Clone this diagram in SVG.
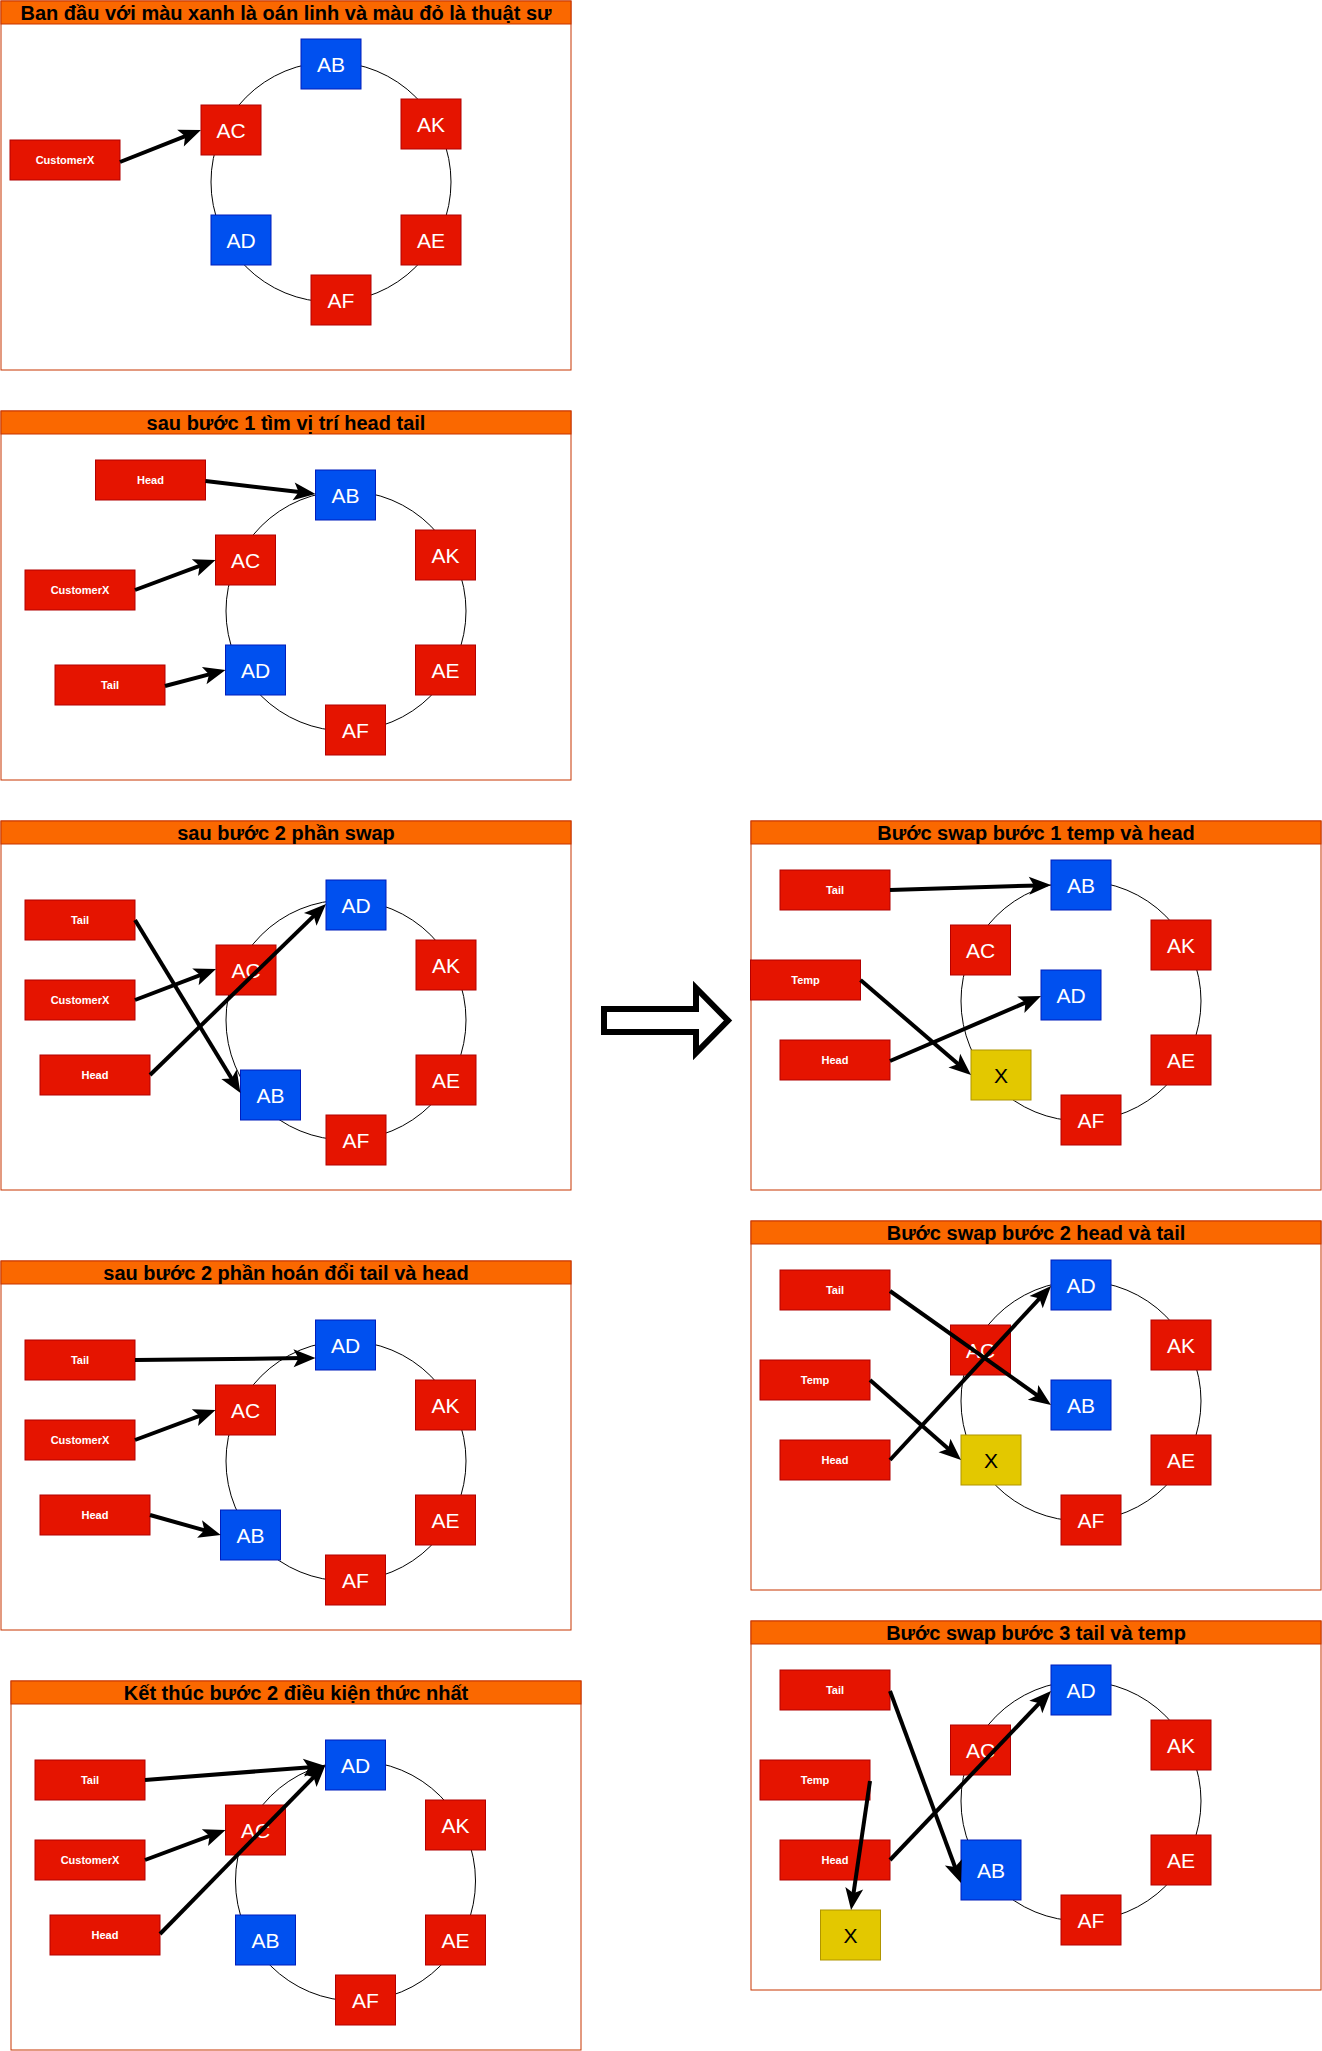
<svg xmlns="http://www.w3.org/2000/svg" width="1322" height="2051" viewBox="0 0 1322 2051">
<style>
.frame{fill:#ffffff;stroke:#C73500;stroke-width:1}
.hdr{fill:#fa6800;stroke:#C73500;stroke-width:1}
.title{font-family:"Liberation Sans",Arial,sans-serif;font-weight:bold;font-size:20px;fill:#000;text-anchor:middle}
.red{fill:#e51400;stroke:#B20000;stroke-width:1}
.blue{fill:#0050ef;stroke:#001DBC;stroke-width:1}
.yel{fill:#e3c800;stroke:#B09500;stroke-width:1}
.lbl{font-family:"Liberation Sans",Arial,sans-serif;font-size:21px;fill:#fff;text-anchor:middle}
.lblk{font-family:"Liberation Sans",Arial,sans-serif;font-size:21px;fill:#000;text-anchor:middle}
.sm{font-family:"Liberation Sans",Arial,sans-serif;font-size:11px;font-weight:bold;fill:#fff;text-anchor:middle}
.ring{fill:none;stroke:#000;stroke-width:1}
.conn line{stroke:#000;stroke-width:4;marker-end:url(#ah)}
</style>
<defs>
<marker id="ah" markerUnits="userSpaceOnUse" markerWidth="24" markerHeight="20" refX="10" refY="9" orient="auto" overflow="visible">
<path d="M0,0 L22,9 L0,18 L5,9 Z" fill="#000"/>
</marker>
</defs>

<!-- Panel 1 -->
<g id="panel1">
<rect class="frame" x="1" y="1" width="570" height="369"/>
<rect class="hdr" x="1" y="1" width="570" height="23"/>
<text class="title" x="286" y="19.5">Ban đầu với màu xanh là oán linh và màu đỏ là thuật sư</text>
<circle class="ring" cx="331" cy="182" r="120"/>
</g>
<g id="p1-ab"><rect class="blue" x="301" y="39" width="60" height="50"/><text class="lbl" x="331" y="71.5">AB</text></g>
<g id="p1-ak"><rect class="red" x="401" y="99" width="60" height="50"/><text class="lbl" x="431" y="131.5">AK</text></g>
<g id="p1-ac"><rect class="red" x="201" y="105" width="60" height="50"/><text class="lbl" x="231" y="137.5">AC</text></g>
<g id="p1-ad"><rect class="blue" x="211" y="215" width="60" height="50"/><text class="lbl" x="241" y="247.5">AD</text></g>
<g id="p1-ae"><rect class="red" x="401" y="215" width="60" height="50"/><text class="lbl" x="431" y="247.5">AE</text></g>
<g id="p1-af"><rect class="red" x="311" y="275" width="60" height="50"/><text class="lbl" x="341" y="307.5">AF</text></g>
<g id="p1-cx"><rect class="red" x="10" y="140" width="110" height="40"/><text class="sm" x="65" y="164">CustomerX</text></g>

<!-- Panel 2 -->
<g id="panel2">
<rect class="frame" x="1" y="411" width="570" height="369"/>
<rect class="hdr" x="1" y="411" width="570" height="23"/>
<text class="title" x="286" y="429.5">sau bước 1 tìm vị trí head tail</text>
<circle class="ring" cx="346" cy="611" r="120"/>
</g>
<g id="p2-head"><rect class="red" x="95.5" y="460" width="110" height="40"/><text class="sm" x="150.5" y="484">Head</text></g>
<g id="p2-ab"><rect class="blue" x="315.5" y="470" width="60" height="50"/><text class="lbl" x="345.5" y="502.5">AB</text></g>
<g id="p2-ak"><rect class="red" x="415.5" y="530" width="60" height="50"/><text class="lbl" x="445.5" y="562.5">AK</text></g>
<g id="p2-ac"><rect class="red" x="215.5" y="535" width="60" height="50"/><text class="lbl" x="245.5" y="567.5">AC</text></g>
<g id="p2-cx"><rect class="red" x="25" y="570" width="110" height="40"/><text class="sm" x="80" y="594">CustomerX</text></g>
<g id="p2-ad"><rect class="blue" x="225.5" y="645" width="60" height="50"/><text class="lbl" x="255.5" y="677.5">AD</text></g>
<g id="p2-ae"><rect class="red" x="415.5" y="645" width="60" height="50"/><text class="lbl" x="445.5" y="677.5">AE</text></g>
<g id="p2-tail"><rect class="red" x="55" y="665" width="110" height="40"/><text class="sm" x="110" y="689">Tail</text></g>
<g id="p2-af"><rect class="red" x="325.5" y="705" width="60" height="50"/><text class="lbl" x="355.5" y="737.5">AF</text></g>

<!-- Panel 3 -->
<g id="panel3">
<rect class="frame" x="1" y="821" width="570" height="369"/>
<rect class="hdr" x="1" y="821" width="570" height="23"/>
<text class="title" x="286" y="839.5">sau bước 2 phần swap</text>
<circle class="ring" cx="346" cy="1020" r="120"/>
</g>
<g id="p3-tail"><rect class="red" x="25" y="900" width="110" height="40"/><text class="sm" x="80" y="924">Tail</text></g>
<g id="p3-ad"><rect class="blue" x="326" y="880" width="60" height="50"/><text class="lbl" x="356" y="912.5">AD</text></g>
<g id="p3-ak"><rect class="red" x="416" y="940" width="60" height="50"/><text class="lbl" x="446" y="972.5">AK</text></g>
<g id="p3-ac"><rect class="red" x="216" y="945" width="60" height="50"/><text class="lbl" x="246" y="977.5">AC</text></g>
<g id="p3-cx"><rect class="red" x="25" y="980" width="110" height="40"/><text class="sm" x="80" y="1004">CustomerX</text></g>
<g id="p3-head"><rect class="red" x="40" y="1055" width="110" height="40"/><text class="sm" x="95" y="1079">Head</text></g>
<g id="p3-ae"><rect class="red" x="416" y="1055" width="60" height="50"/><text class="lbl" x="446" y="1087.5">AE</text></g>
<g id="p3-ab"><rect class="blue" x="240.5" y="1070" width="60" height="50"/><text class="lbl" x="270.5" y="1102.5">AB</text></g>
<g id="p3-af"><rect class="red" x="326" y="1115" width="60" height="50"/><text class="lbl" x="356" y="1147.5">AF</text></g>

<!-- Big hollow arrow -->
<g id="big-arrow">
<polygon points="604,1009 696,1009 696,988 728,1020.5 696,1053 696,1032 604,1032" fill="#fff" stroke="#000" stroke-width="6" stroke-linejoin="miter"/>
</g>

<!-- Panel 4 -->
<g id="panel4">
<rect class="frame" x="751" y="821" width="570" height="369"/>
<rect class="hdr" x="751" y="821" width="570" height="23"/>
<text class="title" x="1036" y="839.5">Bước swap bước 1 temp và head</text>
<circle class="ring" cx="1081" cy="1001" r="120"/>
</g>
<g id="p4-tail"><rect class="red" x="780" y="870" width="110" height="40"/><text class="sm" x="835" y="894">Tail</text></g>
<g id="p4-ab"><rect class="blue" x="1051" y="860" width="60" height="50"/><text class="lbl" x="1081" y="892.5">AB</text></g>
<g id="p4-ac"><rect class="red" x="950.5" y="925" width="60" height="50"/><text class="lbl" x="980.5" y="957.5">AC</text></g>
<g id="p4-ak"><rect class="red" x="1151" y="920" width="60" height="50"/><text class="lbl" x="1181" y="952.5">AK</text></g>
<g id="p4-temp"><rect class="red" x="750.5" y="960" width="110" height="40"/><text class="sm" x="805.5" y="984">Temp</text></g>
<g id="p4-ad"><rect class="blue" x="1041" y="970" width="60" height="50"/><text class="lbl" x="1071" y="1002.5">AD</text></g>
<g id="p4-head"><rect class="red" x="780" y="1040" width="110" height="40"/><text class="sm" x="835" y="1064">Head</text></g>
<g id="p4-x"><rect class="yel" x="971" y="1050" width="60" height="50"/><text class="lblk" x="1001" y="1082.5">X</text></g>
<g id="p4-ae"><rect class="red" x="1151" y="1035" width="60" height="50"/><text class="lbl" x="1181" y="1067.5">AE</text></g>
<g id="p4-af"><rect class="red" x="1061" y="1095" width="60" height="50"/><text class="lbl" x="1091" y="1127.5">AF</text></g>

<!-- Panel 5 -->
<g id="panel5">
<rect class="frame" x="751" y="1221" width="570" height="369"/>
<rect class="hdr" x="751" y="1221" width="570" height="23"/>
<text class="title" x="1036" y="1239.5">Bước swap bước 2 head và tail</text>
<circle class="ring" cx="1081" cy="1401" r="120"/>
</g>
<g id="p5-tail"><rect class="red" x="780" y="1270" width="110" height="40"/><text class="sm" x="835" y="1294">Tail</text></g>
<g id="p5-ad"><rect class="blue" x="1051" y="1260" width="60" height="50"/><text class="lbl" x="1081" y="1292.5">AD</text></g>
<g id="p5-ac"><rect class="red" x="950.5" y="1325" width="60" height="50"/><text class="lbl" x="980.5" y="1357.5">AC</text></g>
<g id="p5-ak"><rect class="red" x="1151" y="1320" width="60" height="50"/><text class="lbl" x="1181" y="1352.5">AK</text></g>
<g id="p5-temp"><rect class="red" x="760" y="1360" width="110" height="40"/><text class="sm" x="815" y="1384">Temp</text></g>
<g id="p5-ab"><rect class="blue" x="1051" y="1380" width="60" height="50"/><text class="lbl" x="1081" y="1412.5">AB</text></g>
<g id="p5-head"><rect class="red" x="780" y="1440" width="110" height="40"/><text class="sm" x="835" y="1464">Head</text></g>
<g id="p5-x"><rect class="yel" x="961" y="1435" width="60" height="50"/><text class="lblk" x="991" y="1467.5">X</text></g>
<g id="p5-ae"><rect class="red" x="1151" y="1435" width="60" height="50"/><text class="lbl" x="1181" y="1467.5">AE</text></g>
<g id="p5-af"><rect class="red" x="1061" y="1495" width="60" height="50"/><text class="lbl" x="1091" y="1527.5">AF</text></g>

<!-- Panel 6 -->
<g id="panel6">
<rect class="frame" x="1" y="1261" width="570" height="369"/>
<rect class="hdr" x="1" y="1261" width="570" height="23"/>
<text class="title" x="286" y="1279.5">sau bước 2 phần hoán đổi tail và head</text>
<circle class="ring" cx="346" cy="1461" r="120"/>
</g>
<g id="p6-tail"><rect class="red" x="25" y="1340" width="110" height="40"/><text class="sm" x="80" y="1364">Tail</text></g>
<g id="p6-ad"><rect class="blue" x="315.5" y="1320" width="60" height="50"/><text class="lbl" x="345.5" y="1352.5">AD</text></g>
<g id="p6-ak"><rect class="red" x="415.5" y="1380" width="60" height="50"/><text class="lbl" x="445.5" y="1412.5">AK</text></g>
<g id="p6-ac"><rect class="red" x="215.5" y="1385" width="60" height="50"/><text class="lbl" x="245.5" y="1417.5">AC</text></g>
<g id="p6-cx"><rect class="red" x="25" y="1420" width="110" height="40"/><text class="sm" x="80" y="1444">CustomerX</text></g>
<g id="p6-head"><rect class="red" x="40" y="1495" width="110" height="40"/><text class="sm" x="95" y="1519">Head</text></g>
<g id="p6-ae"><rect class="red" x="415.5" y="1495" width="60" height="50"/><text class="lbl" x="445.5" y="1527.5">AE</text></g>
<g id="p6-ab"><rect class="blue" x="220.5" y="1510" width="60" height="50"/><text class="lbl" x="250.5" y="1542.5">AB</text></g>
<g id="p6-af"><rect class="red" x="325.5" y="1555" width="60" height="50"/><text class="lbl" x="355.5" y="1587.5">AF</text></g>

<!-- Panel 7 -->
<g id="panel7">
<rect class="frame" x="11" y="1681" width="570" height="369"/>
<rect class="hdr" x="11" y="1681" width="570" height="23"/>
<text class="title" x="296" y="1699.5">Kết thúc bước 2 điều kiện thức nhất</text>
<circle class="ring" cx="355.5" cy="1881" r="120"/>
</g>
<g id="p7-tail"><rect class="red" x="35" y="1760" width="110" height="40"/><text class="sm" x="90" y="1784">Tail</text></g>
<g id="p7-ad"><rect class="blue" x="325.5" y="1740" width="60" height="50"/><text class="lbl" x="355.5" y="1772.5">AD</text></g>
<g id="p7-ak"><rect class="red" x="425.5" y="1800" width="60" height="50"/><text class="lbl" x="455.5" y="1832.5">AK</text></g>
<g id="p7-ac"><rect class="red" x="225.5" y="1805" width="60" height="50"/><text class="lbl" x="255.5" y="1837.5">AC</text></g>
<g id="p7-cx"><rect class="red" x="35" y="1840" width="110" height="40"/><text class="sm" x="90" y="1864">CustomerX</text></g>
<g id="p7-head"><rect class="red" x="50" y="1915" width="110" height="40"/><text class="sm" x="105" y="1939">Head</text></g>
<g id="p7-ab"><rect class="blue" x="235.5" y="1915" width="60" height="50"/><text class="lbl" x="265.5" y="1947.5">AB</text></g>
<g id="p7-ae"><rect class="red" x="425.5" y="1915" width="60" height="50"/><text class="lbl" x="455.5" y="1947.5">AE</text></g>
<g id="p7-af"><rect class="red" x="335.5" y="1975" width="60" height="50"/><text class="lbl" x="365.5" y="2007.5">AF</text></g>

<!-- Panel 8 -->
<g id="panel8">
<rect class="frame" x="751" y="1621" width="570" height="369"/>
<rect class="hdr" x="751" y="1621" width="570" height="23"/>
<text class="title" x="1036" y="1639.5">Bước swap bước 3 tail và temp</text>
<circle class="ring" cx="1081" cy="1801" r="120"/>
</g>
<g id="p8-tail"><rect class="red" x="780" y="1670" width="110" height="40"/><text class="sm" x="835" y="1694">Tail</text></g>
<g id="p8-ad"><rect class="blue" x="1051" y="1665" width="60" height="50"/><text class="lbl" x="1081" y="1697.5">AD</text></g>
<g id="p8-ac"><rect class="red" x="950.5" y="1725" width="60" height="50"/><text class="lbl" x="980.5" y="1757.5">AC</text></g>
<g id="p8-ak"><rect class="red" x="1151" y="1720" width="60" height="50"/><text class="lbl" x="1181" y="1752.5">AK</text></g>
<g id="p8-temp"><rect class="red" x="760" y="1760" width="110" height="40"/><text class="sm" x="815" y="1784">Temp</text></g>
<g id="p8-head"><rect class="red" x="780" y="1840" width="110" height="40"/><text class="sm" x="835" y="1864">Head</text></g>
<g id="p8-ab"><rect class="blue" x="961" y="1840" width="60" height="60"/><text class="lbl" x="991" y="1877.5">AB</text></g>
<g id="p8-x"><rect class="yel" x="820.5" y="1910" width="60" height="50"/><text class="lblk" x="850.5" y="1942.5">X</text></g>
<g id="p8-ae"><rect class="red" x="1151" y="1835" width="60" height="50"/><text class="lbl" x="1181" y="1867.5">AE</text></g>
<g id="p8-af"><rect class="red" x="1061" y="1895" width="60" height="50"/><text class="lbl" x="1091" y="1927.5">AF</text></g>

<!-- Connectors -->
<g id="connectors" class="conn">
<line x1="120" y1="162" x2="189.8" y2="134.4"/>
<line x1="205.5" y1="481" x2="303.6" y2="492.6"/>
<line x1="135" y1="590" x2="204.3" y2="564.2"/>
<line x1="165" y1="686" x2="213.9" y2="673.1"/>
<line x1="135" y1="920" x2="234.2" y2="1082.8"/>
<line x1="135" y1="1000" x2="204.8" y2="973.3"/>
<line x1="150" y1="1075" x2="317.4" y2="912.4"/>
<line x1="890" y1="890" x2="1039" y2="885.4"/>
<line x1="860.5" y1="980" x2="961.9" y2="1067.2"/>
<line x1="890" y1="1061" x2="1030" y2="1000.7"/>
<line x1="890" y1="1291" x2="1041.2" y2="1398.1"/>
<line x1="870" y1="1380" x2="952" y2="1452.1"/>
<line x1="890" y1="1460" x2="1042.9" y2="1294.8"/>
<line x1="135" y1="1360" x2="303.5" y2="1358.1"/>
<line x1="135" y1="1440" x2="204.3" y2="1414.2"/>
<line x1="150" y1="1515" x2="209.2" y2="1531.7"/>
<line x1="145" y1="1780" x2="313.5" y2="1766.9"/>
<line x1="145" y1="1860" x2="214.3" y2="1834.2"/>
<line x1="160" y1="1934" x2="317.1" y2="1773.6"/>
<line x1="890" y1="1691" x2="956.8" y2="1871.7"/>
<line x1="870" y1="1781" x2="852.8" y2="1898.1"/>
<line x1="890" y1="1860" x2="1042.7" y2="1699.7"/>
</g>
</svg>
